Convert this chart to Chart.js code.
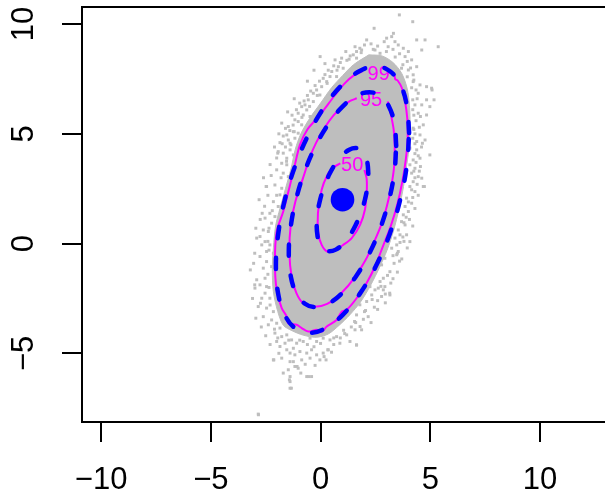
<!DOCTYPE html>
<html><head><meta charset="utf-8">
<script src="https://cdn.jsdelivr.net/npm/chart.js@4.4.1/dist/chart.umd.min.js"></script>
<style>html,body{margin:0;padding:0;background:#fff;overflow:hidden}#wrap{width:605px;height:500px;position:relative}</style>
</head><body><div id="wrap"><canvas id="c"></canvas></div>
<script>
// ---- tick labels ----
const xTicks = [-10, -5, 0, 5, 10];
const yTicks = [-5, 0, 5, 10];

// ---- sample mean (blue dot) ----
const centerPoint = [[1, 2]];

// ---- theoretical ellipses (blue dashed) ----
const ellipse99 = [[4.035,5.035],[3.931,6.292],[3.628,7.257],[3.146,7.863],[2.517,8.07],[1.785,7.863],[1,7.257],[0.215,6.292],[-0.517,5.035],[-1.146,3.571],[-1.628,2],[-1.931,0.429],[-2.035,-1.035],[-1.931,-2.292],[-1.628,-3.257],[-1.146,-3.863],[-0.517,-4.07],[0.215,-3.863],[1,-3.257],[1.785,-2.292],[2.517,-1.035],[3.146,0.429],[3.628,2],[3.931,3.571],[4.035,5.035]];
const ellipse95 = [[3.448,4.448],[3.364,5.462],[3.12,6.24],[2.731,6.729],[2.224,6.895],[1.633,6.729],[1,6.24],[0.367,5.462],[-0.224,4.448],[-0.731,3.267],[-1.12,2],[-1.364,0.733],[-1.448,-0.448],[-1.364,-1.462],[-1.12,-2.24],[-0.731,-2.729],[-0.224,-2.895],[0.367,-2.729],[1,-2.24],[1.633,-1.462],[2.224,-0.448],[2.731,0.733],[3.12,2],[3.364,3.267],[3.448,4.448]];
const ellipse50 = [[2.177,3.177],[2.137,3.665],[2.02,4.039],[1.833,4.275],[1.589,4.355],[1.305,4.275],[1,4.039],[0.695,3.665],[0.411,3.177],[0.167,2.609],[-0.02,2],[-0.137,1.391],[-0.177,0.823],[-0.137,0.335],[-0.02,-0.039],[0.167,-0.275],[0.411,-0.355],[0.695,-0.275],[1,-0.039],[1.305,0.335],[1.589,0.823],[1.833,1.391],[2.02,2],[2.137,2.609],[2.177,3.177]];

// ---- empirical contours (magenta), open at their labels ----
const contour99 = [[3.37,7.72],[3.4,7.5],[3.52,7.42],[3.7,7.1],[3.85,6.47],[3.95,5.71],[3.97,4.8],[3.88,3.8],[3.72,2.8],[3.5,1.8],[3.2,0.8],[2.85,-0.1],[2.5,-1.0],[2.1,-1.8],[1.64,-2.49],[1.19,-3.02],[0.96,-3.1],[0.73,-3.48],[0.28,-3.78],[0.05,-4.01],[-0.18,-3.93],[-0.56,-4.01],[-0.86,-3.85],[-1.09,-3.7],[-1.47,-3.63],[-1.54,-3.33],[-1.77,-2.94],[-2.0,-2.11],[-2.08,-0.89],[-2.0,0.55],[-1.7,1.46],[-1.39,2.67],[-1.17,3.59],[-0.94,4.5],[-0.6,5.2],[-0.03,5.86],[0.66,6.77],[1.1,7.3],[1.5,7.65],[1.9,7.85]];
const contour95 = [[3.06,6.47],[3.2,5.9],[3.33,5.2],[3.38,4.4],[3.35,3.5],[3.22,2.6],[3.02,1.7],[2.78,0.9],[2.45,0.1],[2.05,-0.75],[1.55,-1.55],[0.95,-2.25],[0.3,-2.75],[-0.3,-2.88],[-0.79,-2.72],[-1.1,-2.26],[-1.32,-1.5],[-1.42,-0.4],[-1.36,0.85],[-1.15,1.91],[-0.8,2.98],[-0.5,3.9],[-0.2,4.6],[0.2,5.3],[0.6,5.85],[1.0,6.25],[1.35,6.5],[1.65,6.62]];
const contour50 = [[2.0,3.35],[2.1,2.95],[2.1,2.3],[2.02,1.54],[1.8,0.85],[1.42,0.25],[1.03,-0.06],[0.66,-0.29],[0.3,-0.36],[0.05,-0.06],[-0.1,0.47],[-0.12,1.38],[0.05,2.45],[0.3,3.1],[0.55,3.45],[0.9,3.65]];
const contourLevels = ['99', '95', '50'];
const labelX = [2.65, 2.30, 1.44];
const labelY = [7.72, 6.53, 3.58];

// ---- dense core of the sample cloud (solid grey) ----
const coreRegion = [[2.2,8.6],[2.8,8.55],[3.3,8.25],[3.7,7.75],[3.95,7.05],[4.05,6.3],[4.08,5.4],[4.05,4.5],[3.93,3.6],[3.78,2.6],[3.58,1.6],[3.33,0.6],[3.03,-0.3],[2.68,-1.1],[2.28,-1.9],[1.83,-2.65],[1.33,-3.25],[0.85,-3.72],[0.35,-4.12],[-0.2,-4.27],[-0.8,-4.17],[-1.3,-3.97],[-1.7,-3.72],[-1.95,-3.1],[-2.15,-2.2],[-2.2,-1.2],[-2.15,-0.2],[-2.05,0.8],[-1.85,1.6],[-1.6,2.5],[-1.35,3.4],[-1.15,4.3],[-0.9,5.0],[-0.5,5.7],[0.0,6.4],[0.5,7.1],[1.0,7.65],[1.5,8.15],[2.2,8.6]];

// ---- scattered sample points outside the core ----
const samplePoints = [
[1.57,8.97],[1.87,8.82],[1.49,8.6],[1.64,8.45],[0.96,8.45],[0.66,8.37],[0.81,8.06],[1.03,7.99],[0.51,7.84],[0.43,7.61],[0.73,7.61],[0.12,7.53],[0.28,7.38],[0.05,7.15],[-0.18,7.0],[-0.33,6.85],[-0.03,6.77],[-0.56,6.55],[-0.33,6.47],[-0.71,6.32],[-0.86,6.24],[-0.63,6.09],[-1.02,5.94],[-0.79,5.86],[-0.48,5.79],[-1.17,5.64],[-1.02,5.56],[-0.86,5.41],[-1.77,5.49],[-1.47,5.33],[-1.24,5.1],[-1.02,5.03],[-1.17,4.8],[-1.47,4.72],[-1.54,4.95],[-1.39,4.57],[-0.94,4.65],
[3.01,9.36],[3.24,9.43],[3.39,9.2],[2.1,9.28],[1.79,8.9],[1.64,8.75],[2.48,8.82],[2.71,8.67],[3.08,8.97],[3.54,9.05],[3.77,8.9],[4.0,8.75],[4.38,9.28],[4.76,9.28],[4.61,8.82],[4.15,8.37],[3.85,8.52],[4.38,8.06],[4.0,7.91],[3.69,7.99],[4.22,7.69],[4.53,7.23],[4.83,7.15],[5.06,7.08],[5.36,8.97],[4.22,7.38],[4.45,6.85],[4.83,6.55],[4.61,6.32],[4.98,6.24],[4.3,6.32],[4.45,5.94],[4.83,5.86],[4.68,5.41],[4.22,5.26],[4.53,4.95],[4.38,4.65],[4.76,4.72],
[3.59,10.42],[4.2,10.11],[3.32,9.58],[2.44,9.81],[-0.02,8.52],[5.08,7.0],[5.17,6.55],[4.55,5.79],[4.64,4.57],[4.55,3.51],[4.73,2.6],[3.5,-0.44],[3.15,-2.26],[-1.95,4.12],[-2.48,2.6],[-2.66,1.38],[-3.0,-0.44],[-3.0,-1.88],[-2.74,-2.72],[-2.13,-5.3],[-1.42,-6.21],[-0.55,-6.06],[-1.07,-5.6],[-2.83,-7.8],[-1.33,-6.59],[0.33,-4.84],[0.16,-5.15],
[-0.6,7.4],[-0.3,7.9],[0.2,8.2],[-1.2,6.6],[-1.5,6.0],[-1.9,5.0],[-2.1,4.4],[-2.3,3.6],[-2.6,3.0],[-2.8,2.0],[3.9,1.2],[3.75,0.3],[3.6,-0.8],[3.3,-1.6],[2.95,-2.7],[2.6,-3.0],[2.3,-3.6],
[-1.93,4.19],[-1.70,4.12],[-1.54,3.89],[-1.39,4.27],[-1.24,4.04],[-1.77,3.66],[-1.54,3.59],[-2.0,3.36],[-1.70,3.21],[-1.47,3.05],[-1.32,3.28],[-2.46,2.6],[-2.08,2.67],[-1.77,2.52],[-1.85,2.22],[-1.54,2.07],[-2.15,1.91],[-1.93,1.69],[-1.77,1.46],[-2.31,1.38],[-2.08,1.23],[-2.53,1.16],[-2.23,0.93],[-2.61,0.62],[-2.38,0.55],[-2.76,0.32],[-2.91,0.25],[-2.53,0.09],[-2.31,-0.06],[-2.68,-0.06],[-2.46,-0.36],[-2.15,-0.44],
[4.07,4.35],[4.38,4.27],[4.53,3.89],[4.98,4.04],[4.22,3.81],[4.07,3.59],[4.30,3.43],[4.15,3.21],[4.45,3.05],[4.61,2.98],[4.22,2.82],[4.68,2.6],[4.07,2.6],[4.30,2.37],[3.92,2.07],[4.15,1.84],[3.85,1.69],[4.0,1.46],[3.77,1.31],[3.69,1.0],[3.85,0.85],[3.54,0.62],[3.62,0.4],[3.39,0.25],[3.92,0.4],[3.47,-0.06],[3.24,-0.21],[3.54,-0.36],[4.07,0.09],
[-2.76,-0.59],[-2.46,-0.82],[-2.23,-1.05],[-2.61,-1.12],[-2.91,-1.65],[-2.53,-1.58],[-2.76,-1.88],[-2.46,-1.96],[-2.99,-2.03],[-2.53,-2.26],[-2.68,-2.49],[-2.31,-2.49],[-2.84,-2.87],[-2.46,-2.94],[-2.15,-3.10],[-2.61,-3.33],[-2.23,-3.48],[-2.0,-3.63],[-2.38,-3.70],[-1.85,-3.85],[-2.08,-4.08],[-1.77,-4.24],[-1.54,-4.16],[-2.0,-4.46],[-1.62,-4.54],[-1.32,-4.39],[-1.09,-4.54],[-0.79,-4.46],[-0.48,-4.31],[-0.18,-4.46],[0.12,-4.31],[0.43,-4.39],[0.73,-4.24],[0.88,-4.54],[1.19,-4.16],[1.57,-3.93],[1.80,-3.78],[1.34,-4.46],[1.64,-4.62],[-1.85,-4.69],[-1.54,-4.84],[-1.24,-4.77],[-1.39,-4.99],[-1.17,-5.07],[-0.94,-4.92],[-0.63,-4.99],[-0.41,-4.84],[-0.18,-5.07],[0.12,-4.99],[0.35,-4.84],[-0.03,-5.30],[-0.48,-5.22],[-0.86,-5.30],[-1.24,-5.38],[-2.15,-5.30],[-1.77,-5.22],[-1.39,-5.38],[-1.17,-5.6],[-1.47,-5.75],[-1.02,-5.68],[-0.41,-6.06],[-0.63,-6.06],[-1.70,-5.90],[-1.39,-6.06],[-1.39,-6.29],[-1.39,-6.59],[-2.84,-7.77],
[2.93,-0.67],[3.47,-0.51],[2.78,-0.97],[3.16,-1.28],[2.86,-1.58],[2.71,-1.73],[2.93,-1.96],[2.63,-2.03],[2.86,-2.11],[3.16,-2.34],[2.78,-2.41],[2.33,-2.34],[2.48,-2.11],[2.25,-1.96],[2.10,-2.64],[1.79,-2.79],[2.17,-3.33],[1.64,-3.25],[1.87,-3.93],[1.64,-4.62],
[0.9,8.25],[1.2,8.35],[1.35,8.55],[0.6,8.1],[0.35,7.9],[0.2,7.7],[-0.05,7.4],[-0.25,7.2],[-0.45,6.95],[-0.6,6.75],[-0.75,6.5],[-0.95,6.4],[-1.1,6.1],[-1.3,5.85],[-1.25,5.4],[-1.4,5.15],[-1.6,5.25],[-1.7,4.9],[-1.75,4.55],[-1.6,4.4],[1.15,8.75],[2.0,9.05],[2.3,9.1],[2.6,9.0],[2.9,9.2],[3.3,8.85],[3.6,8.65],[3.95,8.3],[4.1,8.0],[4.25,7.45],[4.35,7.0],[4.4,6.6],[4.2,6.1],[4.35,5.6],[4.3,5.0],[4.5,5.3],[4.2,4.8],[4.6,4.4],[4.45,4.0],[4.35,3.7],[4.5,3.3],[4.3,3.0],[4.4,2.7],[4.45,2.2],[4.2,2.1],[4.3,1.6],[4.05,1.1],[4.2,0.8],[3.8,0.1],[3.95,-0.2],[3.7,-0.7],[3.35,-0.9],[3.5,-1.3],[3.2,-1.8],[2.95,-2.3],[2.6,-2.6],[2.45,-2.9],[2.05,-3.05],[1.95,-3.45],[1.6,-3.6],[1.4,-3.8],[1.1,-4.1],[0.9,-4.3],[0.6,-4.6],[0.5,-4.95],[0.25,-5.3],[-0.25,-5.55],[-0.7,-5.5],[-0.9,-5.9],[-1.9,-5.0],[-2.3,-4.6],[-2.5,-4.2],[-2.7,-3.8],[-2.95,-3.4],[-3.1,-2.5],[-3.2,-1.2],[-3.05,-0.9],[-2.95,0.7],[-2.75,1.1],[-2.55,1.7],[-2.4,2.2],[-2.25,3.1],[-2.0,3.9],[-1.85,4.6],[-2.05,-1.95],
[-2.35,-0.3],[-2.4,-1.4],[-2.35,-2.0],[-2.3,-2.8],[-2.1,-3.9],[-1.95,-4.3],[-1.45,-4.4],[-0.95,-4.4],[-0.6,-4.6],[-0.3,-4.7],[0.0,-4.55],[0.6,-4.3],[1.05,-3.95],[1.55,-3.55],[2.0,-3.1],[2.35,-2.55],[2.75,-1.95],[3.05,-1.45],[3.3,-0.55],[3.62,0.05],[3.8,0.95],[4.0,1.9],[4.15,2.45],[4.25,3.3],[4.3,4.1],[4.3,4.55],[4.25,5.2],[4.25,5.85],[4.2,6.55],[4.15,7.1],[3.95,7.6],[3.75,8.15],[3.4,8.5],[3.0,8.75],[2.4,8.85],[1.85,8.7],[1.3,8.4],[0.75,7.9],[0.3,7.3],[-0.15,6.75],[-0.5,6.25],[-0.85,5.75],[-1.2,5.1],[-1.35,4.5],[-1.55,3.75],[-1.8,3.0],[-2.0,2.2],[-2.2,1.5],[-2.35,0.7],[-2.4,0.1]
];

const FF = '"Liberation Sans", Arial, Helvetica, sans-serif';
const fmt = v => (v < 0 ? '\u2212' + Math.abs(v) : String(v));
const P = a => a.map(p => ({x: p[0], y: p[1]}));

const labelPlugin = {
  id: 'contourLabels',
  afterDatasetDraw(chart, args) {
    const ds = chart.data.datasets[args.index];
    if (!ds.drawLabelsAfter) return;
    const {ctx, scales: {x, y}} = chart;
    ctx.save();
    ctx.fillStyle = '#FF00FF';
    ctx.font = '20px ' + FF;
    ctx.textAlign = 'center';
    ctx.textBaseline = 'middle';
    contourLevels.forEach((lab, i) => ctx.fillText(lab, x.getPixelForValue(labelX[i]), y.getPixelForValue(labelY[i])));
    ctx.restore();
  }
};
const topFrame = {
  id: 'topFrame',
  afterDraw(chart) {
    const {ctx, chartArea: a} = chart;
    ctx.save();
    ctx.strokeStyle = '#000';
    ctx.lineWidth = 2;
    ctx.beginPath();
    ctx.moveTo(a.left - 1, a.top);
    ctx.lineTo(a.right, a.top);
    ctx.stroke();
    ctx.restore();
  }
};

const axisCommon = {
  type: 'linear',
  grid: {display: true, drawOnChartArea: false, drawTicks: true, tickLength: 20, color: '#000', lineWidth: 2},
  border: {display: true, color: '#000', width: 2}
};

new Chart(document.getElementById('c'), {
  type: 'scatter',
  data: {
    datasets: [
      {label: 'core', data: P(coreRegion), showLine: true, fill: 'shape', backgroundColor: '#BEBEBE', borderColor: '#BEBEBE', borderWidth: 1, pointRadius: 0, tension: 0.3, order: 10},
      {label: 'sample', data: P(samplePoints), pointStyle: 'rect', pointRadius: 2.1, backgroundColor: '#BEBEBE', borderWidth: 0, order: 9},
      {label: 'c99', data: P(contour99), showLine: true, fill: false, borderColor: '#FF00FF', borderWidth: 2, pointRadius: 0, tension: 0.3, order: 8},
      {label: 'c95', data: P(contour95), showLine: true, fill: false, borderColor: '#FF00FF', borderWidth: 2, pointRadius: 0, tension: 0.3, order: 7},
      {label: 'c50', data: P(contour50), showLine: true, fill: false, borderColor: '#FF00FF', borderWidth: 2, pointRadius: 0, tension: 0.3, order: 6, drawLabelsAfter: true},
      {label: 'e99', data: P(ellipse99), showLine: true, fill: false, borderColor: '#0000FF', borderWidth: 4.5, borderDash: [11, 20], borderCapStyle: 'round', pointRadius: 0, tension: 0.4, order: 5},
      {label: 'e95', data: P(ellipse95), showLine: true, fill: false, borderColor: '#0000FF', borderWidth: 4.5, borderDash: [11, 20], borderCapStyle: 'round', pointRadius: 0, tension: 0.4, order: 4},
      {label: 'e50', data: P(ellipse50), showLine: true, fill: false, borderColor: '#0000FF', borderWidth: 4.5, borderDash: [11, 20], borderCapStyle: 'round', pointRadius: 0, tension: 0.4, order: 3},
      {label: 'mean', data: P(centerPoint), pointRadius: 11.8, backgroundColor: '#0000FF', borderWidth: 0, order: 1}
    ]
  },
  options: {
    responsive: true,
    maintainAspectRatio: false,
    devicePixelRatio: 1,
    animation: false,
    events: [],
    layout: {autoPadding: false, padding: {left: 0, top: 7, right: 0, bottom: 0}},
    plugins: {legend: {display: false}, tooltip: {enabled: false}},
    scales: {
      x: Object.assign({}, axisCommon, {
        position: 'bottom', min: -10.87, max: 12.96,
        afterBuildTicks: s => { s.ticks = xTicks.map(v => ({value: v})); },
        afterFit: s => { s.height = 78; s.paddingLeft = 0; s.paddingRight = 0; },
        ticks: {font: {size: 31, family: FF}, color: '#000', padding: 20, minRotation: 0, maxRotation: 0, autoSkip: false, callback: fmt}
      }),
      y: Object.assign({}, axisCommon, {
        position: 'left', min: -8.13, max: 10.78,
        afterBuildTicks: s => { s.ticks = yTicks.map(v => ({value: v})); },
        afterFit: s => { s.width = 82; s.paddingTop = 0; s.paddingBottom = 0; },
        ticks: {font: {size: 31, family: FF}, color: '#000', padding: 20, minRotation: 90, maxRotation: 90, crossAlign: 'center', autoSkip: false, callback: fmt}
      })
    }
  },
  plugins: [labelPlugin, topFrame]
});
</script>
</body></html>
